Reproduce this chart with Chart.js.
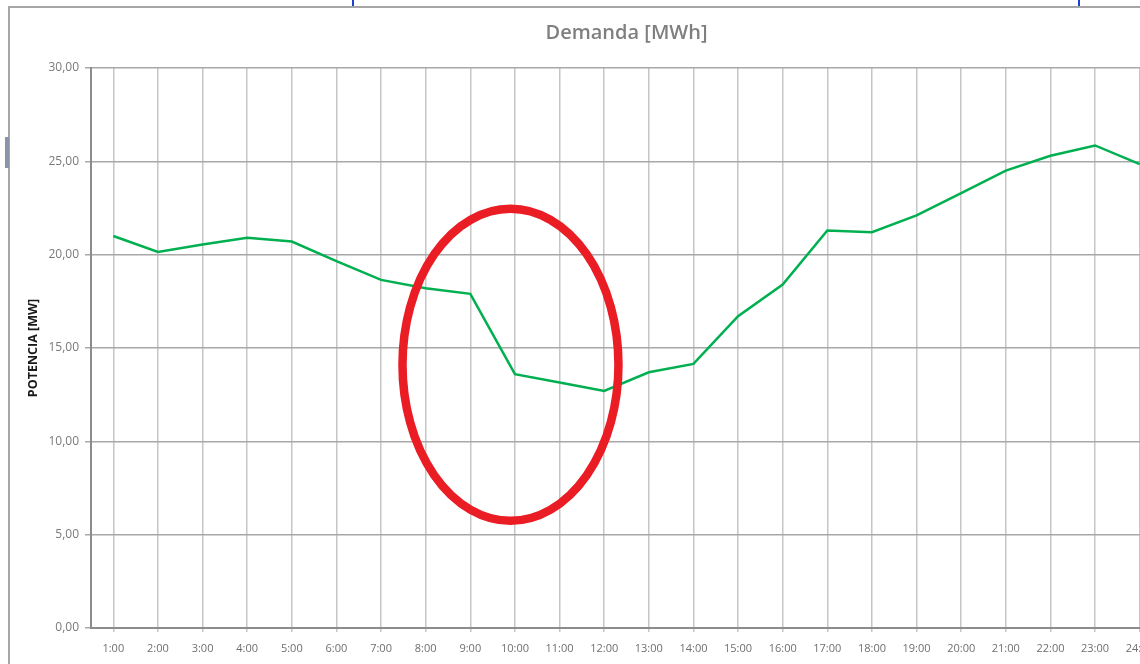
<!DOCTYPE html>
<html>
<head>
<meta charset="utf-8">
<script src="https://cdn.jsdelivr.net/npm/chart.js@4/dist/chart.umd.min.js"></script>
<style>
  html, body { margin: 0; padding: 0; background: #fff; overflow: hidden; }
  #frame {
    position: absolute; left: 8px; top: 6px; width: 1300px; height: 720px;
    border-left: 2px solid #a6a6a6; border-top: 2px solid #a6a6a6;
  }
  #wrap { position: absolute; left: 10px; top: 8px; width: 1220px; height: 670px; }
  .blue { position: absolute; top: 0; width: 2px; height: 6px; background: #1f3fd0; }
  #handle { position: absolute; left: 5px; top: 137px; width: 4px; height: 31px; background: #8a93a8; }
</style>
</head>
<body>
<div id="frame"></div>
<div class="blue" style="left:352px"></div>
<div class="blue" style="left:1078px"></div>
<div id="handle"></div>
<div id="wrap"><canvas id="demandaChart"></canvas></div>
<script>
// Demanda horaria (lectura aproximada del gráfico)
const horas = ['1:00', '2:00', '3:00', '4:00', '5:00', '6:00', '7:00', '8:00', '9:00', '10:00', '11:00', '12:00',
               '13:00', '14:00', '15:00', '16:00', '17:00', '18:00', '19:00', '20:00', '21:00', '22:00', '23:00', '24:00'];
const potencia = [21.0, 20.15, 20.55, 20.9, 20.7, 19.65, 18.65, 18.2, 17.9, 13.6, 13.15, 12.7,
                  13.7, 14.15, 16.7, 18.4, 21.3, 21.2, 22.1, 23.3, 24.5, 25.3, 25.85, 24.85];
const yTicks = [0, 5, 10, 15, 20, 25, 30];

// elipse roja de la marca (centro y radios en unidades de los ejes)
const marca = { x: 8.9, y: 14.1, rx: 2.42, ry: 8.36 };

const elipsePlugin = {
    id: 'elipse',
    afterDatasetsDraw(chart) {
        const xs = chart.scales.x, ys = chart.scales.y;
        const cx = xs.getPixelForValue(marca.x);
        const cy = ys.getPixelForValue(marca.y);
        const rx = xs.getPixelForValue(marca.x + marca.rx) - cx;
        const ry = ys.getPixelForValue(marca.y - marca.ry) - cy;
        const c = chart.ctx;
        c.save();
        c.beginPath();
        c.ellipse(cx, cy, rx, ry, 0, 0, Math.PI * 2);
        c.strokeStyle = '#ea1c24';
        c.lineWidth = 8.5;
        c.stroke();
        c.restore();
    }
};

const ctx = document.getElementById('demandaChart').getContext('2d');
new Chart(ctx, {
    type: 'line',
    data: {
        labels: horas,
        datasets: [{
            label: 'Demanda',
            data: potencia,
            borderColor: '#00b050',
            backgroundColor: '#00b050',
            borderWidth: 2.5,
            pointRadius: 0,
            tension: 0
        }]
    },
    options: {
        responsive: true,
        maintainAspectRatio: false,
        animation: false,
        layout: { padding: { left: 10, right: 68, top: 6, bottom: 16 } },
        plugins: {
            legend: { display: false },
            tooltip: { enabled: false },
            title: {
                display: true,
                fullSize: false,
                text: 'Demanda [MWh]',
                color: '#7f7f7f',
                font: { family: 'Open Sans', size: 20, weight: '600' },
                padding: { top: 7, bottom: 23 }
            }
        },
        scales: {
            x: {
                offset: true,
                grid: { offset: false, color: '#c6c6c6', lineWidth: 1.5, tickLength: 4 },
                border: { color: '#8c8c8c', width: 2 },
                ticks: {
                    color: '#6f6f6f',
                    font: { family: 'Open Sans', size: 11 },
                    maxRotation: 0,
                    autoSkip: false,
                    padding: 10
                },
                afterFit(scale) { scale.height = 34; }
            },
            y: {
                min: 0,
                max: 30,
                afterBuildTicks(scale) { scale.ticks = yTicks.map(v => ({ value: v })); },
                grid: { color: '#a8a8a8', lineWidth: 1.5, tickLength: 6 },
                border: { color: '#8c8c8c', width: 2 },
                ticks: {
                    color: '#7a7a7a',
                    font: { family: 'Open Sans', size: 12 },
                    padding: 6,
                    callback: v => v.toFixed(2).replace('.', ',')
                },
                title: {
                    display: true,
                    text: 'POTENCIA [MW]',
                    color: '#1a1a1a',
                    font: { family: 'Open Sans', size: 12.5, weight: 'bold' },
                    padding: { top: 6, bottom: 0 }
                },
                afterFit(scale) { scale.width = 71; }
            }
        }
    },
    plugins: [elipsePlugin]
});
</script>
</body>
</html>
